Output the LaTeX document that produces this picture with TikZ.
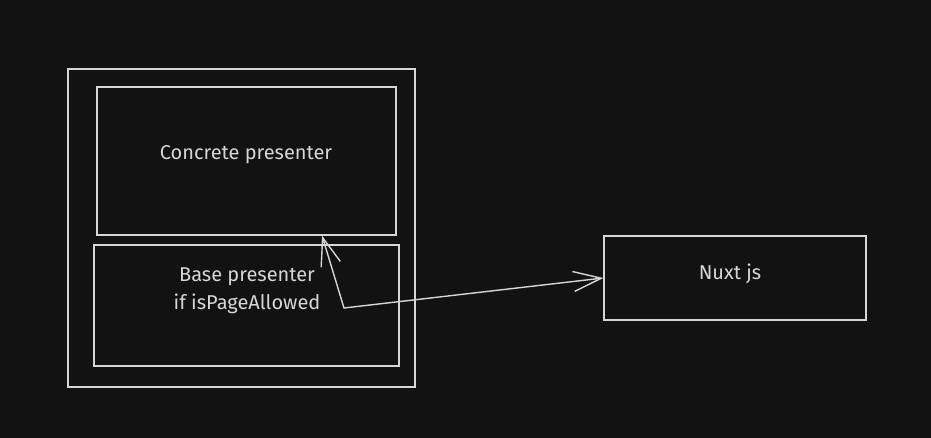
\documentclass[tikz,border=0pt]{standalone}
\usepackage{fontspec}
\setmainfont{Fira Sans}
\usepackage{xcolor}
\usepackage{tikz}
\usetikzlibrary{arrows.meta, positioning}

\definecolor{canvas}{HTML}{121212}
\definecolor{sketch}{HTML}{D6D6D6}

\begin{document}
\begin{tikzpicture}[
        x=1pt, y=-1pt,
        box/.style={rectangle, draw=sketch, line width=1.1pt, inner sep=0pt},
        label/.style={text=sketch, font=\fontsize{20}{28}\selectfont, align=center},
        arrow/.style={{Straight Barb[length=28pt, width=20pt]}-{Straight Barb[length=28pt, width=20pt]},
                      draw=sketch, line width=1.4pt}
    ]
        \fill[canvas] (0,0) rectangle (931,438);
        \useasboundingbox (0,0) rectangle (931,438);

        \node[box, minimum width=347pt, minimum height=318pt] (outer) at (241.5,228) {};
        \node[box, minimum width=299pt, minimum height=148pt] (concrete) at (246.5,161) {};
        \node[box, minimum width=305pt, minimum height=121pt] (base) at (246.5,305.5) {};
        \node[box, minimum width=262pt, minimum height=84pt] (nuxt) at (735,278) {};

        \node[label] (concretetext) at (246,155) {Concrete presenter};
        \node[label] (basetext) at (247,291) {Base presenter\\if isPageAllowed};
        \node[label] (nuxttext) at (730,274) {Nuxt js};

        \coordinate (bend) at (344,308);
        \draw[arrow] ([xshift=75.5pt]concrete.south) -- (bend) -- (nuxt.west);
    \end{tikzpicture}
\end{document}
